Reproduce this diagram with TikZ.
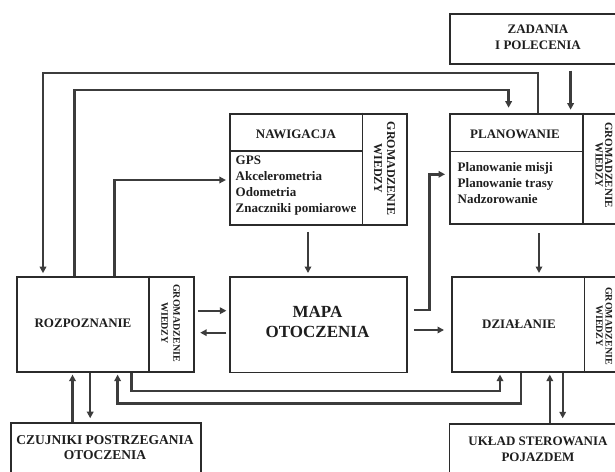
\documentclass[tikz,border=0pt]{standalone}
\usepackage{fontspec}
\setmainfont{Liberation Serif}
\usetikzlibrary{arrows.meta}
\definecolor{ln}{HTML}{3C3C3C}
\definecolor{bx}{HTML}{2B2B2B}
\definecolor{tx}{HTML}{1E1E1E}
\begin{document}
\begin{tikzpicture}[x=1pt,y=-1pt,
  box/.style={draw=bx,line width=1.9pt,fill=white,rectangle,inner sep=0pt,anchor=north west},
  div/.style={draw=bx,line width=1.1pt},
  conn/.style={draw=ln,line width=2.4pt,-{Triangle[length=6.5pt,width=6.5pt]}},
  lbl/.style={font=\bfseries\fontsize{13}{16.5}\selectfont,text=tx,align=center,inner sep=0pt},
  lst/.style={font=\bfseries\fontsize{13}{16}\selectfont,text=tx,align=left,inner sep=0pt,anchor=west},
  grom/.style 2 args={font=\bfseries\fontsize{#1}{#2}\selectfont,text=tx,align=center,inner sep=0pt,rotate=-90},
  big/.style={font=\bfseries\fontsize{17}{20}\selectfont,text=tx,align=center,inner sep=0pt}
]
\useasboundingbox (0,0) rectangle (615,471);
\clip (0,0) rectangle (615,471);
\fill[white] (0,0) rectangle (615,471);

% boxes
\node[box,minimum width=179pt,minimum height=50pt] (zad) at (449,12.7) {};
\node[box,minimum width=176.5pt,minimum height=111.3pt] (nav) at (229.4,112.7) {};
\node[box,minimum width=179pt,minimum height=110.5pt] (plan) at (449,112.7) {};
\node[box,minimum width=177.6pt,minimum height=95pt] (rozp) at (15.7,275.7) {};
\node[box,minimum width=176.5pt,minimum height=95.5pt] (mapa) at (229.4,276) {};
\node[box,minimum width=177pt,minimum height=94.7pt] (dzial) at (451,276) {};
\node[box,minimum width=190pt,minimum height=70pt] (czuj) at (10,421.7) {};
\node[box,minimum width=180pt,minimum height=70pt] (ukl) at (448.5,423.3) {};

% dividers
\draw[div] ([xshift=133.3pt]nav.north west) -- ([xshift=133.3pt]nav.south west);
\draw[div] ([yshift=-38.3pt]nav.north west) -- ++(133.3,0);
\draw[div] ([xshift=134pt]plan.north west) -- ([xshift=134pt]plan.south west);
\draw[div] ([yshift=-38.8pt]plan.north west) -- ++(134,0);
\draw[div] ([xshift=133.3pt]rozp.north west) -- ([xshift=133.3pt]rozp.south west);
\draw[div] ([xshift=133.3pt]dzial.north west) -- ([xshift=133.3pt]dzial.south west);

% texts
\node[lbl] (zadt) at (538,37.5) {ZADANIA\\I POLECENIA};
\node[lbl] (navh) at (296,134) {NAWIGACJA};
\node[lst] (navl) at (235.5,186) {GPS\\Akcelerometria\\Odometria\\Znaczniki pomiarowe};
\node[grom={12}{13}] (navg) at (384.5,168.4) {GROMADZENIE\\WIEDZY};
\node[lbl] (planh) at (515,134) {PLANOWANIE};
\node[lst] (planl) at (457.5,183) {Planowanie misji\\Planowanie trasy\\Nadzorowanie};
\node[grom={11}{9.5}] (plang) at (604,165) {GROMADZENIE\\WIEDZY};
\node[lbl] (rozpt) at (83,323) {ROZPOZNANIE};
\node[grom={10}{12}] (rozpg) at (170.5,323) {GROMADZENIE\\WIEDZY};
\node[big] (mapat) at (317.5,322) {MAPA\\OTOCZENIA};
\node[lbl] (dzialt) at (519,324) {DZIAŁANIE};
\node[grom={10}{9.5}] (dzialg) at (604,326) {GROMADZENIE\\WIEDZY};
\node[lbl,font=\bfseries\fontsize{13.5}{15}\selectfont] (czujt) at (105,448) {CZUJNIKI POSTRZEGANIA\\OTOCZENIA};
\node[lbl,font=\bfseries\fontsize{13}{16}\selectfont] (uklt) at (538,449) {UKŁAD STEROWANIA\\POJAZDEM};

% connectors
\draw[conn,shorten >=2.5pt] ([xshift=89pt]plan.north west) -- ++(0,-40) -| ([xshift=27.3pt]rozp.north west);
\draw[conn,shorten >=5pt] ([xshift=58.8pt]rozp.north west) -- ++(0,-185.7) -| ([xshift=59.6pt]plan.north west);
\draw[conn,shorten <=6pt,shorten >=3pt] ([xshift=121.6pt]zad.south west) -- ([xshift=121.6pt]plan.north west);
\draw[conn,shorten >=3.5pt] ([xshift=98.8pt]rozp.north west) |- ([yshift=-67.3pt]nav.north west);
\draw[conn,shorten <=6pt,shorten >=3pt] ([xshift=78.6pt]nav.south west) -- ([xshift=78.6pt]mapa.north west);
\draw[conn,shorten <=6pt,shorten >=4pt] ([yshift=-34pt]mapa.north east) -- ++(21.5,0) |- ([yshift=-61.6pt]plan.north west);
\draw[conn,shorten <=8pt,shorten >=3pt] ([xshift=90pt]plan.south west) -- ([xshift=88pt]dzial.north west);
\draw[conn,shorten <=3pt,shorten >=3pt] ([yshift=-35pt]rozp.north east) -- ([yshift=-34.7pt]mapa.north west);
\draw[conn,shorten <=3pt,shorten >=5pt] ([yshift=-56.7pt]mapa.north west) -- ([yshift=-57pt]rozp.north east);
\draw[conn,shorten <=6pt,shorten >=7pt] ([yshift=-54pt]mapa.north east) -- ([yshift=-54pt]dzial.north west);
\draw[conn,shorten >=2pt] ([xshift=69.8pt]dzial.south west) -- ++(0,31) -| ([xshift=101.9pt]rozp.south west);
\draw[conn,shorten >=2pt] ([xshift=115.7pt]rozp.south west) -- ++(0,18.6) -| ([xshift=49pt]dzial.south west);
\draw[conn,shorten >=2pt] ([xshift=62.5pt]czuj.north west) -- ([xshift=56.8pt]rozp.south west);
\draw[conn,shorten >=3.5pt] ([xshift=74.5pt]rozp.south west) -- ([xshift=80.2pt]czuj.north west);
\draw[conn,shorten >=2pt] ([xshift=101.3pt]ukl.north west) -- ([xshift=98.8pt]dzial.south west);
\draw[conn,shorten >=5pt] ([xshift=111.7pt]dzial.south west) -- ([xshift=114.2pt]ukl.north west);
\end{tikzpicture}
\end{document}
